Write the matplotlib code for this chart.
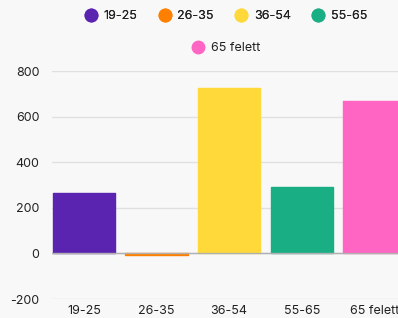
import matplotlib
matplotlib.use("Agg")
import matplotlib.pyplot as plt
from matplotlib.lines import Line2D

categories = ["19-25", "26-35", "36-54", "55-65", "65 felett"]
values = [265, -6, 725, 290, 670]
colors = ["#5B24B0", "#FF8000", "#FFD83A", "#1AAE85", "#FF66C4"]
yticks = [-200, 0, 200, 400, 600, 800]

plt.rcParams['font.family'] = ['Inter', 'DejaVu Sans']
bg = "#F8F8F8"
W, H = 398, 318
fig = plt.figure(figsize=(W/100, H/100), dpi=100, facecolor=bg)
left = 52 / W
bottom = 1 - 299 / H
top = 1 - 71 / H
ax = fig.add_axes([left, bottom, 1 - left, top - bottom], facecolor=bg)

x = list(range(len(categories)))
bars = ax.bar(x, values, width=0.86, color=colors, edgecolor=colors,
              linewidth=1.0, zorder=3)
for b in bars:
    b.set_joinstyle('round')

ax.set_ylim(-200, 800)
ax.set_xlim(-0.44, 4.325)
ax.set_yticks(yticks)
ax.set_yticklabels([str(v) for v in yticks])
ax.set_xticks(x)
ax.set_xticklabels(categories)
ax.grid(axis='y', color='#E0E0E0', linewidth=1, zorder=0)
ax.axhline(0, color='#B0B0B0', linewidth=1, zorder=4)
for s in ax.spines.values():
    s.set_visible(False)
ax.tick_params(axis='both', length=0, labelsize=9, colors='#222222')
ax.tick_params(axis='y', pad=9)
ax.tick_params(axis='x', pad=4)

def handle(c):
    return Line2D([], [], marker='o', linestyle='none', markersize=9,
                  markerfacecolor=c, markeredgecolor=c)

h1 = [handle(c) for c in colors[:4]]
leg1 = fig.legend(h1, categories[:4], loc='center', ncol=4,
                  bbox_to_anchor=(226 / W, 1 - 16 / H), frameon=False,
                  fontsize=9, handletextpad=0.5, columnspacing=1.7,
                  handlelength=1.0, labelcolor='#222222')
leg2 = fig.legend([handle(colors[4])], categories[4:], loc='center',
                  bbox_to_anchor=(226 / W, 1 - 48 / H), frameon=False,
                  fontsize=9, handletextpad=0.5, handlelength=1.0,
                  labelcolor='#222222')
fig.add_artist(leg1)

fig.savefig("out.png", dpi=100, facecolor=bg)
